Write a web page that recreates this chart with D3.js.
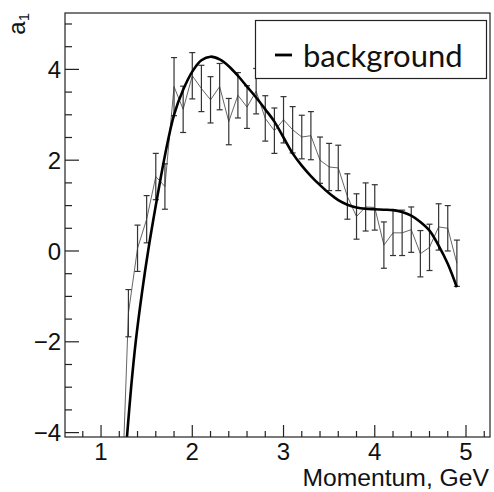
<!DOCTYPE html>
<html>
<head>
<meta charset="utf-8">
<script src="https://cdn.jsdelivr.net/npm/d3@7"></script>
<style>
  body { margin: 0; background: #fff; }
  svg { display: block; }
  .tick-label { font-family: "Liberation Sans", Arial, sans-serif; font-size: 24px; fill: #111; }
</style>
</head>
<body>
<svg id="canvas"></svg>
<script>
// measured points (momentum in GeV)
const momentum = [1.2, 1.3, 1.4, 1.5, 1.6, 1.7, 1.8, 1.9, 2.0, 2.1, 2.2, 2.3, 2.4, 2.5, 2.6, 2.7, 2.8, 2.9, 3.0,
                  3.1, 3.2, 3.3, 3.4, 3.5, 3.6, 3.7, 3.8, 3.9, 4.0, 4.1, 4.2, 4.3, 4.4, 4.5, 4.6, 4.7, 4.8, 4.9];
const a1 = [-7.0, -1.37, 0.06, 0.70, 1.64, 1.42, 3.62, 3.12, 3.86, 3.58, 3.33, 3.62, 2.85, 3.43, 3.17, 3.52, 2.92, 2.65, 2.89,
            2.67, 2.51, 2.54, 2.00, 1.85, 1.83, 1.20, 0.76, 0.97, 0.96, 0.13, 0.40, 0.40, 0.47, -0.06, 0.08, 0.53, 0.50, -0.27];
const a1Err = [0.5, 0.52, 0.51, 0.52, 0.51, 0.50, 0.64, 0.51, 0.51, 0.51, 0.51, 0.51, 0.51, 0.50, 0.47, 0.50, 0.50, 0.50, 0.51,
               0.51, 0.48, 0.53, 0.51, 0.52, 0.50, 0.50, 0.50, 0.53, 0.50, 0.51, 0.50, 0.50, 0.50, 0.51, 0.51, 0.51, 0.50, 0.51];

// background curve
const bgMomentum = [1.28, 1.33, 1.38, 1.45, 1.52, 1.6, 1.7, 1.8, 1.9, 2.0, 2.1, 2.2, 2.3, 2.4, 2.5, 2.6, 2.7, 2.8, 2.9, 3.0,
                    3.1, 3.2, 3.3, 3.4, 3.5, 3.6, 3.7, 3.8, 3.9, 4.0, 4.1, 4.2, 4.3, 4.4, 4.5, 4.6, 4.7, 4.8, 4.9];
const bgValue = [-4.2, -3.0, -2.0, -0.9, 0.05, 1.0, 2.1, 3.0, 3.55, 3.95, 4.2, 4.28, 4.22, 4.07, 3.86, 3.62, 3.38, 3.12, 2.85, 2.5,
                 2.15, 1.88, 1.65, 1.45, 1.27, 1.12, 1.02, 0.96, 0.93, 0.92, 0.91, 0.9, 0.86, 0.78, 0.64, 0.45, 0.12, -0.28, -0.8];

const xMajor = [1, 2, 3, 4, 5];
const yMajor = [-4, -2, 0, 2, 4];
const legendText = "background";

var w = 494;
var h = 492;
var padL = 65, padR = 490, padT = 13, padB = 437;

var svg = d3.select("#canvas")
    .attr("width", w)
    .attr("height", h);

var x = d3.scaleLinear().domain([0.605, 5.263]).range([padL, padR]);
var y = d3.scaleLinear().domain([-4.097, 5.242]).range([padB, padT]);

svg.append("clipPath").attr("id", "frame-clip")
    .append("rect")
    .attr("x", padL).attr("y", padT)
    .attr("width", padR - padL).attr("height", padB - padT);

var plot = svg.append("g").attr("clip-path", "url(#frame-clip)");

var pts = momentum.map((m, i) => ({ x: m, y: a1[i], e: a1Err[i] }));

// thin line through the points
plot.append("path")
    .datum(pts)
    .attr("fill", "none")
    .attr("stroke", "#666")
    .attr("stroke-width", 1)
    .attr("d", d3.line().x(d => x(d.x)).y(d => y(d.y)));

// error bars
var bars = plot.selectAll(".err")
    .data(pts)
    .enter()
    .append("g")
    .attr("class", "err")
    .attr("stroke", "#333")
    .attr("stroke-width", 1.2);
bars.append("line")
    .attr("x1", d => x(d.x)).attr("x2", d => x(d.x))
    .attr("y1", d => y(d.y - d.e)).attr("y2", d => y(d.y + d.e));
bars.append("line")
    .attr("x1", d => x(d.x) - 3).attr("x2", d => x(d.x) + 3)
    .attr("y1", d => y(d.y - d.e)).attr("y2", d => y(d.y - d.e));
bars.append("line")
    .attr("x1", d => x(d.x) - 3).attr("x2", d => x(d.x) + 3)
    .attr("y1", d => y(d.y + d.e)).attr("y2", d => y(d.y + d.e));

// background fit curve
var bg = bgMomentum.map((m, i) => ({ x: m, y: bgValue[i] }));
plot.append("path")
    .datum(bg)
    .attr("fill", "none")
    .attr("stroke", "#000")
    .attr("stroke-width", 2.6)
    .attr("d", d3.line().curve(d3.curveCatmullRom).x(d => x(d.x)).y(d => y(d.y)));

// frame
svg.append("rect")
    .attr("x", padL).attr("y", padT)
    .attr("width", padR - padL).attr("height", padB - padT)
    .attr("fill", "none")
    .attr("stroke", "#222")
    .attr("stroke-width", 1.2);

// ticks drawn inward, root style
var xMinor = d3.range(0.8, 5.25, 0.2).map(v => +v.toFixed(1)).filter(v => xMajor.indexOf(v) < 0);
var yMinor = d3.range(-4, 5.2, 0.5).filter(v => yMajor.indexOf(v) < 0);

svg.selectAll(".xmaj").data(xMajor).enter().append("line")
    .attr("x1", d => x(d)).attr("x2", d => x(d))
    .attr("y1", padB).attr("y2", padB - 12)
    .attr("stroke", "#222").attr("stroke-width", 1.2);
svg.selectAll(".xmin").data(xMinor).enter().append("line")
    .attr("x1", d => x(d)).attr("x2", d => x(d))
    .attr("y1", padB).attr("y2", padB - 6)
    .attr("stroke", "#222").attr("stroke-width", 1.2);
svg.selectAll(".ymaj").data(yMajor).enter().append("line")
    .attr("x1", padL).attr("x2", padL + 14)
    .attr("y1", d => y(d)).attr("y2", d => y(d))
    .attr("stroke", "#222").attr("stroke-width", 1.2);
svg.selectAll(".ymin").data(yMinor).enter().append("line")
    .attr("x1", padL).attr("x2", padL + 7)
    .attr("y1", d => y(d)).attr("y2", d => y(d))
    .attr("stroke", "#222").attr("stroke-width", 1.2);

// tick labels
svg.selectAll(".xlab").data(xMajor).enter().append("text")
    .attr("class", "tick-label")
    .attr("x", d => x(d))
    .attr("y", 460)
    .attr("text-anchor", "middle")
    .text(d => d);
svg.selectAll(".ylab").data(yMajor).enter().append("text")
    .attr("class", "tick-label")
    .attr("x", 61)
    .attr("y", d => y(d))
    .attr("dy", "0.36em")
    .attr("text-anchor", "end")
    .text(d => (d < 0 ? "\u2212" + Math.abs(d) : d));

// axis titles
svg.append("text")
    .attr("class", "tick-label")
    .attr("x", 489)
    .attr("y", 486)
    .attr("text-anchor", "end")
    .style("font-size", "24.7px")
    .text("Momentum, GeV");

var ytitle = svg.append("text")
    .attr("class", "tick-label")
    .attr("transform", "translate(25,13) rotate(-90)")
    .attr("text-anchor", "end");
ytitle.append("tspan").text("a");
ytitle.append("tspan").attr("font-size", "15px").attr("dy", 4).text("1");

// legend
svg.append("rect")
    .attr("x", 255.5).attr("y", 20.5)
    .attr("width", 231).attr("height", 58)
    .attr("fill", "#fff")
    .attr("stroke", "#222")
    .attr("stroke-width", 1.2);
svg.append("line")
    .attr("x1", 275).attr("x2", 292)
    .attr("y1", 55).attr("y2", 55)
    .attr("stroke", "#000").attr("stroke-width", 2.8);
svg.append("text")
    .attr("x", 303)
    .attr("y", 67)
    .style("font-family", "Lato, sans-serif")
    .style("font-size", "31px")
    .style("fill", "#111")
    .text(legendText);
</script>
</body>
</html>
